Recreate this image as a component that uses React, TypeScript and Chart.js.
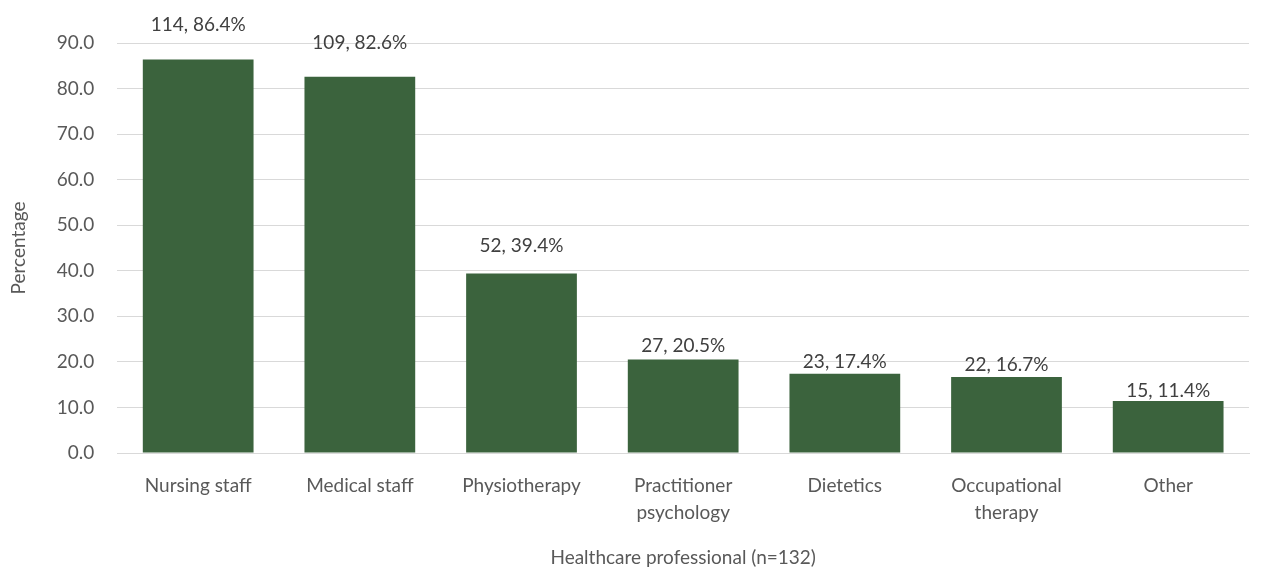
import React, { useEffect, useRef } from "react";
import { Chart, registerables } from "chart.js";

Chart.register(...registerables);

const categories: (string | string[])[] = [
  "Nursing staff",
  "Medical staff",
  "Physiotherapy",
  ["Practitioner", "psychology"],
  "Dietetics",
  ["Occupational", "therapy"],
  "Other",
];
const counts = [114, 109, 52, 27, 23, 22, 15];
const percentages = [86.4, 82.6, 39.4, 20.5, 17.4, 16.7, 11.4];
const yTicks = [0, 10, 20, 30, 40, 50, 60, 70, 80, 90];

const FONT = "Lato, sans-serif";
const TEXT = "#595959";
const BAR = "#3b633d";
const FS = 19;
// distance (px) between bar top and label baseline, as placed in the reference
const labelLift = [28, 28, 22, 8, 6, 6, 4];

const labelPlugin = {
  id: "barLabels",
  afterDatasetsDraw(chart: any) {
    const ctx = chart.ctx;
    const meta = chart.getDatasetMeta(0);
    ctx.save();
    ctx.font = `${FS}px ${FONT}`;
    ctx.fillStyle = "#404040";
    ctx.textAlign = "center";
    ctx.textBaseline = "alphabetic";
    meta.data.forEach((bar: any, i: number) => {
      const text = `${counts[i]}, ${percentages[i].toFixed(1)}%`;
      ctx.fillText(text, bar.x, bar.y - labelLift[i]);
    });
    ctx.restore();
  },
};

export default function App() {
  const ref = useRef<HTMLCanvasElement | null>(null);
  useEffect(() => {
    if (!ref.current) return;
    const chart = new Chart(ref.current, {
      type: "bar",
      data: {
        labels: categories,
        datasets: [
          {
            data: percentages,
            backgroundColor: BAR,
            categoryPercentage: 0.685,
            barPercentage: 1,
          },
        ],
      },
      options: {
        animation: false,
        responsive: true,
        maintainAspectRatio: false,
        layout: { padding: { left: 7, right: 22, top: 43, bottom: 4 } },
        plugins: { legend: { display: false }, tooltip: { enabled: false } },
        scales: {
          x: {
            grid: { display: false, drawTicks: false },
            border: { color: "#d9d9d9", width: 1 },
            ticks: {
              color: TEXT,
              font: { family: FONT, size: FS, lineHeight: 1.4 },
              padding: 20,
              maxRotation: 0,
              autoSkip: false,
            },
            title: {
              display: true,
              text: "Healthcare professional (n=132)",
              color: TEXT,
              font: { family: FONT, size: FS },
              padding: { top: 0, bottom: 0 },
            },
          },
          y: {
            min: 0,
            max: 90,
            afterBuildTicks: (axis: any) => {
              axis.ticks = yTicks.map((v) => ({ value: v }));
            },
            grid: { color: "#d9d9d9", lineWidth: 1, drawTicks: false },
            border: { display: false },
            ticks: {
              color: TEXT,
              font: { family: FONT, size: FS },
              padding: 23,
              callback: (v: any) => Number(v).toFixed(1),
            },
            title: {
              display: true,
              text: "Percentage",
              color: TEXT,
              font: { family: FONT, size: FS },
              padding: { top: 0, bottom: 4 },
            },
          },
        },
      },
      plugins: [labelPlugin],
    });
    return () => chart.destroy();
  }, []);
  return (
    <div
      style={{
        position: "fixed",
        left: 0,
        top: 0,
        width: 1271,
        height: 573,
        background: "#fff",
      }}
    >
      <canvas ref={ref} />
    </div>
  );
}
